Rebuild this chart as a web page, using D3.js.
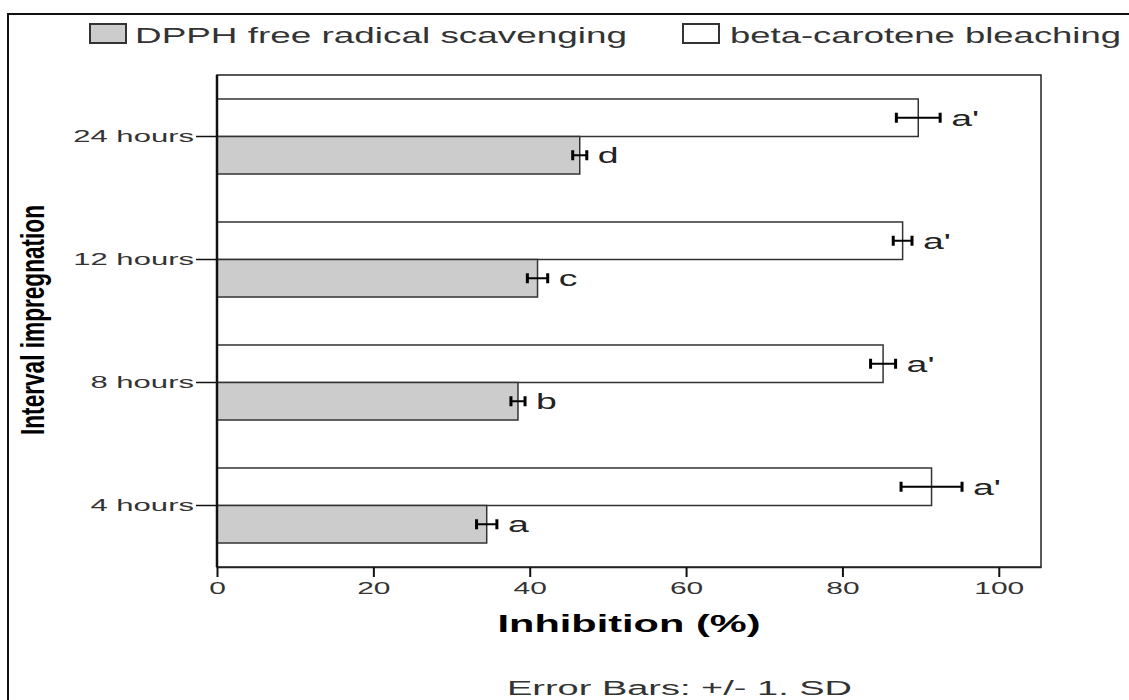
<!DOCTYPE html>
<html>
<head>
<meta charset="utf-8">
<script src="https://cdn.jsdelivr.net/npm/d3@7"></script>
<style>
  body { margin: 0; background: #fff; }
  svg { display: block; font-family: "Liberation Sans", Arial, sans-serif; }
</style>
</head>
<body>
<svg id="chart"></svg>
<script>
const width = 1129;
const height = 700;

// data
const categories = ['24 hours', '12 hours', '8 hours', '4 hours'];
const seriesNames = ['DPPH free radical scavenging', 'beta-carotene bleaching'];
const dpphMean = [46.4, 41.0, 38.5, 34.5];
const dpphSD = [0.9, 1.3, 0.9, 1.3];
const dpphLetter = ['d', 'c', 'b', 'a'];
const betaMean = [89.7, 87.7, 85.2, 91.4];
const betaSD = [2.8, 1.2, 1.6, 3.9];
const betaLetter = ["a'", "a'", "a'", "a'"];
const xTicks = [0, 20, 40, 60, 80, 100];

const plot = { left: 217, right: 1041, top: 75, bottom: 567 };

const svg = d3.select('#chart')
    .attr('width', width)
    .attr('height', height);

// outer border (runs off the right and bottom of the picture)
svg.append('path')
    .attr('d', `M8,${height} L8,14 L${width},14`)
    .attr('fill', 'none')
    .attr('stroke', '#111')
    .attr('stroke-width', 2);

const x = d3.scaleLinear().domain([0, 105.4]).range([plot.left, plot.right]);
const y = d3.scaleBand().domain(categories).range([plot.top, plot.bottom])
    .paddingInner(0.39).paddingOuter(0.195);
const ySub = d3.scaleBand().domain(['beta', 'dpph']).range([0, y.bandwidth()]);

const rows = categories.map((c, i) => ([
    { cat: c, key: 'beta', mean: betaMean[i], sd: betaSD[i], letter: betaLetter[i], fill: '#ffffff' },
    { cat: c, key: 'dpph', mean: dpphMean[i], sd: dpphSD[i], letter: dpphLetter[i], fill: '#cccccc' }
])).flat();

// plot frame
svg.append('rect')
    .attr('x', plot.left).attr('y', plot.top)
    .attr('width', plot.right - plot.left).attr('height', plot.bottom - plot.top)
    .attr('fill', 'none').attr('stroke', '#222').attr('stroke-width', 1.5);

// bars
svg.append('g').selectAll('rect')
    .data(rows).enter().append('rect')
    .attr('x', x(0))
    .attr('y', d => y(d.cat) + ySub(d.key))
    .attr('width', d => x(d.mean) - x(0))
    .attr('height', ySub.bandwidth())
    .attr('fill', d => d.fill)
    .attr('stroke', '#333')
    .attr('stroke-width', 1.5);

// error bars
const err = svg.append('g').selectAll('g')
    .data(rows).enter().append('g')
    .attr('transform', d => `translate(0,${y(d.cat) + ySub(d.key) + ySub.bandwidth() / 2})`);
err.append('line')
    .attr('x1', d => x(d.mean - d.sd)).attr('x2', d => x(d.mean + d.sd))
    .attr('stroke', '#000').attr('stroke-width', 2);
err.selectAll('rect')
    .data(d => [d.mean - d.sd, d.mean + d.sd]).enter().append('rect')
    .attr('x', v => x(v) - 1.5).attr('y', -5)
    .attr('width', 3).attr('height', 10)
    .attr('fill', '#000');
err.append('text')
    .attr('transform', d => `translate(${x(d.mean + d.sd) + 11},8) scale(1.7,1)`)
    .attr('font-size', 22)
    .attr('fill', '#222')
    .text(d => d.letter);

// y axis
const yAxis = svg.append('g')
    .attr('transform', `translate(${plot.left},0)`)
    .call(d3.axisLeft(y).tickSize(21).tickSizeOuter(0));
yAxis.select('.domain').remove();
yAxis.selectAll('.tick line').attr('stroke', '#111').attr('stroke-width', 1.5);
yAxis.selectAll('.tick text')
    .attr('x', null).attr('dy', '0.36em')
    .attr('transform', 'translate(-23,0) scale(1.94,1)')
    .attr('font-size', 16).attr('fill', '#333');
svg.append('line')
    .attr('x1', plot.left).attr('x2', plot.left)
    .attr('y1', plot.top).attr('y2', plot.bottom)
    .attr('stroke', '#111').attr('stroke-width', 2.5);

// x axis
const xAxis = svg.append('g')
    .attr('transform', `translate(0,${plot.bottom})`)
    .call(d3.axisBottom(x).tickValues(xTicks).tickSize(10).tickSizeOuter(0));
xAxis.select('.domain').attr('stroke', '#222').attr('stroke-width', 1.5);
xAxis.selectAll('.tick line').attr('stroke', '#111').attr('stroke-width', 2);
xAxis.selectAll('.tick text')
    .attr('y', null).attr('dy', null)
    .attr('transform', 'translate(0,27) scale(1.87,1)')
    .attr('font-size', 16).attr('fill', '#333');

// axis titles
svg.append('text')
    .attr('x', (plot.left + plot.right) / 2).attr('y', 632)
    .attr('text-anchor', 'middle')
    .attr('font-size', 23).attr('font-weight', 'bold')
    .attr('textLength', 263).attr('lengthAdjust', 'spacingAndGlyphs')
    .text('Inhibition (%)');

svg.append('text')
    .attr('transform', 'translate(44,320) rotate(-90)')
    .attr('text-anchor', 'middle')
    .attr('font-size', 33).attr('font-weight', 'bold')
    .attr('textLength', 230).attr('lengthAdjust', 'spacingAndGlyphs')
    .text('Interval impregnation');

svg.append('text')
    .attr('x', 507).attr('y', 695)
    .attr('font-size', 20).attr('fill', '#333')
    .attr('textLength', 345).attr('lengthAdjust', 'spacingAndGlyphs')
    .text('Error Bars: +/- 1. SD');

// legend
const legend = [
    { name: seriesNames[0], fill: '#cccccc', box: 90, text: 135, len: 492 },
    { name: seriesNames[1], fill: '#ffffff', box: 683, text: 730, len: 391 }
];
const lg = svg.append('g').selectAll('g').data(legend).enter().append('g');
lg.append('rect')
    .attr('x', d => d.box).attr('y', 24)
    .attr('width', 36).attr('height', 19)
    .attr('fill', d => d.fill)
    .attr('stroke', '#333').attr('stroke-width', 2);
lg.append('text')
    .attr('x', d => d.text).attr('y', 43)
    .attr('font-size', 22).attr('fill', '#333')
    .attr('textLength', d => d.len).attr('lengthAdjust', 'spacingAndGlyphs')
    .text(d => d.name);
</script>
</body>
</html>
